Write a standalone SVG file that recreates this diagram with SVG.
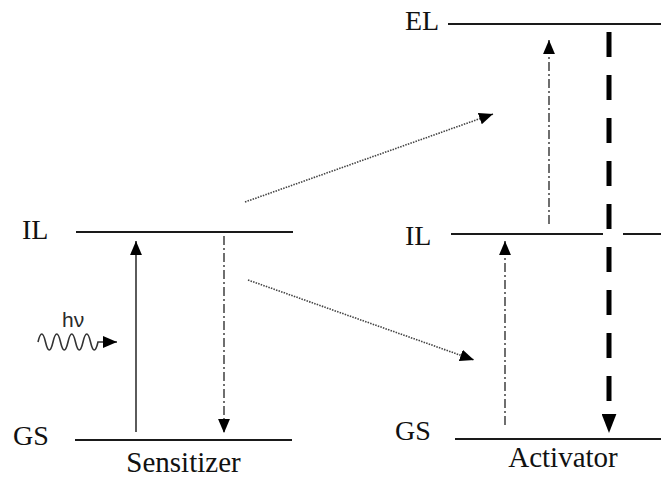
<svg xmlns="http://www.w3.org/2000/svg" width="661" height="478" viewBox="0 0 661 478">
  <style>
    .level { stroke: #1a1a1a; stroke-width: 2; fill: none; }
    .lbl { font-family: "Liberation Serif", "Times New Roman", serif; font-size: 28px; fill: #111; }
    .name { font-family: "Liberation Serif", "Times New Roman", serif; font-size: 29px; fill: #111; }
    .photon { font-family: "Liberation Sans", Arial, sans-serif; font-size: 21px; fill: #2a2a2a; }
    .solid { stroke: #333; stroke-width: 1.6; fill: none; }
    .dashdot { stroke: #222; stroke-width: 1.3; fill: none; stroke-dasharray: 9 3 2 3; }
    .dotted { stroke: #444; stroke-width: 1.6; fill: none; stroke-dasharray: 1.5 1.2; }
    .thick { stroke: #000; stroke-width: 5; fill: none; stroke-dasharray: 25 18; }
  </style>
  <defs>
    <!-- tip-anchored head for thin arrows -->
    <marker id="head" markerUnits="userSpaceOnUse" markerWidth="14" markerHeight="12" viewBox="0 0 13 11" refX="13" refY="5.5" orient="auto">
      <path d="M0,0 L13,5.5 L0,11 z" fill="#000"/>
    </marker>
    <!-- base-anchored head for the wide dashed arrow -->
    <marker id="bighead" markerUnits="userSpaceOnUse" markerWidth="19" markerHeight="15" viewBox="0 0 18 14" refX="0" refY="7" orient="auto">
      <path d="M0,0 L18,7 L0,14 z" fill="#000"/>
    </marker>
  </defs>
  <rect width="661" height="478" fill="#fff"/>

  <g id="sensitizer">
    <line class="level" x1="76" y1="232" x2="293" y2="232"/>
    <line class="level" x1="75" y1="440" x2="292" y2="440"/>
    <text class="lbl" x="22" y="239">IL</text>
    <text class="lbl" x="13" y="445">GS</text>
    <text class="name" x="183.5" y="472" text-anchor="middle">Sensitizer</text>
  </g>

  <g id="activator">
    <line class="level" x1="448" y1="24" x2="661" y2="24"/>
    <line class="level" x1="451" y1="234" x2="603" y2="234"/>
    <line class="level" x1="623" y1="234" x2="661" y2="234"/>
    <line class="level" x1="455" y1="439" x2="661" y2="439"/>
    <text class="lbl" x="405" y="30">EL</text>
    <text class="lbl" x="405" y="245">IL</text>
    <text class="lbl" x="395" y="440">GS</text>
    <text class="name" x="563" y="467" text-anchor="middle">Activator</text>
  </g>

  <g id="photon">
    <text class="photon" x="62" y="327">hν</text>
    <path class="solid" stroke-width="1.4" d="M38,342 q3.75,-16 7.5,0 t7.5,0 t7.5,0 t7.5,0 t7.5,0 t7.5,0 t7.5,0 t7.5,0 l19,0" marker-end="url(#head)"/>
  </g>

  <g id="connectors">
    <!-- sensitizer absorption and decay -->
    <line class="solid" x1="136" y1="432" x2="136" y2="241" marker-end="url(#head)"/>
    <line class="dashdot" x1="224" y1="236" x2="224" y2="433" marker-end="url(#head)"/>
    <!-- energy transfer -->
    <line class="dotted" x1="245" y1="202" x2="493" y2="114" marker-end="url(#head)"/>
    <line class="dotted" x1="248" y1="280" x2="474" y2="360" marker-end="url(#head)"/>
    <!-- activator upconversion steps -->
    <line class="dashdot" x1="505" y1="425" x2="505" y2="241" marker-end="url(#head)"/>
    <line class="dashdot" x1="549" y1="224" x2="549" y2="40" marker-end="url(#head)"/>
    <!-- emission -->
    <line class="thick" x1="609" y1="32" x2="609" y2="414" marker-end="url(#bighead)"/>
  </g>
</svg>
